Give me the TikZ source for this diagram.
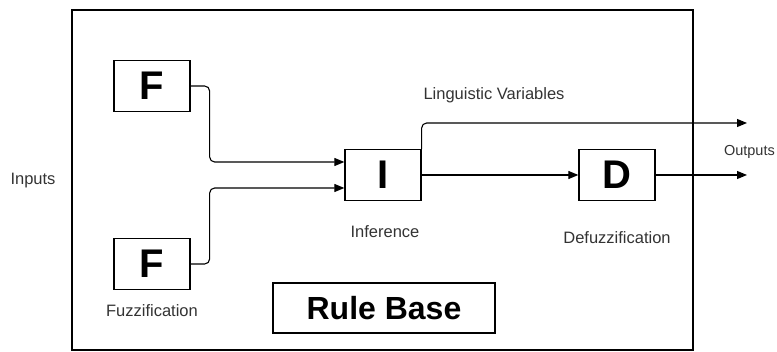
\documentclass[tikz,border=0pt]{standalone}
\usepackage{fontspec}
\setmainfont{Liberation Sans}
\usetikzlibrary{positioning, calc, arrows.meta}

\tikzset{
	block/.style={draw, line width=1.3pt, minimum width=76pt, minimum height=51pt, inner sep=0pt, font=\fontsize{40}{44}\selectfont\bfseries},
	label/.style={text=black!80, font=\fontsize{16.5}{19}\selectfont, inner sep=0pt},
	flow/.style={line width=1.1pt, -{Triangle[length=10pt,width=8pt]}, rounded corners=5pt}
}

\begin{document}
\begin{tikzpicture}[x=1pt, y=-1pt]
	\useasboundingbox (0,0) rectangle (777,352);
	\draw [line width=2pt] (72,10) rectangle (693,350);
	
	% fuzzifiers, inference and defuzzifier
	\node [block] (F1) at (152,86) {F};
	\node [block] (F2) at (152,264) {F};
	\node [block] (I) at (383,175) {I};
	\node [block] (D) at (617,175) {D};
	\node [block, minimum width=222pt, minimum height=50pt, font=\fontsize{32}{36}\selectfont\bfseries] (rules) at (384,308) {Rule Base};
	
	\coordinate (in1) at ($(I.west)+(0,-13)$);
	\coordinate (in2) at ($(I.west)+(0,13)$);
	\coordinate (ling) at (747,123);
	\coordinate (out) at (747,175);
	
	\draw [flow] (F1.east) -- ++(19,0) |- (in1);
	\draw [flow] (F2.east) -- ++(19,0) |- (in2);
	\draw [flow] (I.north east) |- (ling);
	\draw [flow] (I.east) -- (D.west);
	\draw [flow] (D.east) -- (D.east -| out);
	
	\node [label] (inputs) at (33,181) {Inputs};
	\node [label, anchor=east, font=\fontsize{14.5}{17}\selectfont] (outputs) at (775,152) {Outputs};
	\node [label] (lv) at (494,95) {Linguistic Variables};
	\node [label] (inf) at (385,232) {Inference};
	\node [label] (defuz) at (617,238) {Defuzzification};
	\node [label] (fuzz) at (152,311) {Fuzzification};
\end{tikzpicture}
\end{document}
